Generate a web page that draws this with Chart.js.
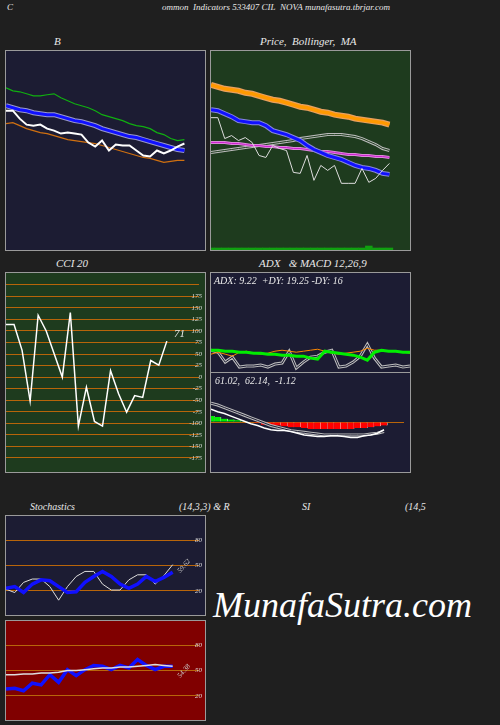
<!DOCTYPE html>
<html><head><meta charset="utf-8">
<script src="https://cdn.jsdelivr.net/npm/chart.js@4/dist/chart.umd.min.js"></script>
<style>
body{margin:0;width:500px;height:725px;background:#1f1f1f;position:relative;overflow:hidden;font-family:"Liberation Serif",serif;font-style:italic;color:#e8e8e8}
.t{position:absolute;font-size:11px;white-space:nowrap}
.p{position:absolute;border:1px solid #9a9a9a;box-sizing:border-box}
.p canvas{position:absolute;left:0;top:0}
</style></head><body>
<div class="t" style="left:7px;top:2px;font-size:9px">C</div>
<div class="t" style="left:162px;top:2px;font-size:9px">ommon&nbsp; Indicators 533407 CIL&nbsp; NOVA munafasutra.tbrjar.com</div>
<div class="t" style="left:54px;top:35px">B</div>
<div class="t" style="left:260px;top:35px">Price,&nbsp; Bollinger,&nbsp; MA</div>
<div class="t" style="left:56px;top:257px">CCI 20</div>
<div class="t" style="left:259px;top:257px">ADX &nbsp; &amp; MACD 12,26,9</div>
<div class="t" style="left:30px;top:501px;font-size:10px">Stochastics</div>
<div class="t" style="left:179px;top:501px;font-size:10px">(14,3,3) &amp; R</div>
<div class="t" style="left:302px;top:501px;font-size:10px">SI</div>
<div class="t" style="left:405px;top:501px;font-size:10px">(14,5</div>

<div class="p" style="left:5px;top:50px;width:201px;height:201px;background:#1c1c33"><canvas id="cB" width="199" height="199"></canvas></div>
<div class="p" style="left:210px;top:50px;width:201px;height:201px;background:#1e3b1e"><canvas id="cP" width="199" height="199"></canvas></div>
<div class="p" style="left:5px;top:272px;width:201px;height:201px;background:#1e3b1e"><canvas id="cC" width="199" height="199"></canvas></div>
<div class="p" style="left:210px;top:272px;width:201px;height:101px;background:#1c1c33"><canvas id="cA" width="199" height="99"></canvas></div>
<div class="p" style="left:210px;top:372px;width:201px;height:101px;background:#1c1c33"><canvas id="cM" width="199" height="99"></canvas></div>
<div class="p" style="left:5px;top:515px;width:201px;height:101px;background:#1c1c33"><canvas id="cS" width="199" height="99"></canvas></div>
<div class="p" style="left:5px;top:620px;width:201px;height:101px;background:#800000"><canvas id="cR" width="199" height="99"></canvas></div>

<div class="t" style="left:174px;top:327px;font-size:11px">71</div>
<div class="t" style="left:214px;top:275px;font-size:10px">ADX: 9.22 &nbsp;+DY: 19.25 -DY: 16</div>
<div class="t" style="left:215px;top:375px;font-size:10px">61.02,&nbsp; 62.14,&nbsp; -1.12</div>
<div class="t" style="left:176px;top:562px;font-size:7px;transform:rotate(-50deg);color:#ccc">59.62</div>
<div class="t" style="left:176px;top:667px;font-size:7px;transform:rotate(-50deg);color:#ccc">54.38</div>
<div class="t" style="left:213px;top:584px;font-size:36px;color:#fff">MunafaSutra.com</div>

<script>
// ---- data ----
const bUpper=[163,160,159,157,155,155,156,157,153,150,147,145,143,140,136,134,132,130,127,125,124,122,118,116,112,110,111];
const bMid=[145,143,141,140,138,137,136,136,134,132,130,129,127,125,122,120,118,116,114,113,111,109,107,105,103,101,100];
const bLower=[127,128,125,122,120,118,117,115,113,111,110,109,108,107,105,103,101,99,97,95,93,92,90,88,89,90,90];
const bPrice=[140,140,132,126,125,126,122,120,117,118,117,116,108,104,110,100,106,105,105,100,95,94,100,97,100,104,107];

const maLong=[166,164,162,161,160,158,157,155,153,151,150,148,146,144,143,141,139,138,136,135,134,132,131,130,129,128,126];
const maMid=[141,140,137,134,130,129,128,128,125,120,118,116,113,110,105,101,98,95,93,91,88,85,83,82,80,77,76];
const maPink=[108,108,108,107,107,106,105,105,104,104,103,103,102,102,101,100,99,99,98,97,96,96,95,95,94,94,93];
const maGrey=[98,99,100,101,102,103,104,105,106,107,108,109,110,112,113,114,115,116,116,116,115,114,112,109,106,102,100];
const pPrice=[133,133,112,115,110,113,108,95,93,105,102,100,78,77,95,70,85,80,85,67,67,67,82,68,72,80,87];
const volume=[2,2,2,2,2,2,2,2,2,2,2,2,2,2,2,2,2,2,2,2,2,2,2,4,2,2,2];

const cci=[114,114,58,-52,134,100,50,0,140,-106,-22,-96,-106,14,-36,-76,-40,-44,36,26,78];
const cciTicks=[200,175,150,125,100,75,50,25,0,-25,-50,-75,-100,-125,-150,-175];

const plusDI=[22,22,21,21,20,20,19,19,18,18,17,17,16,16,14,13,21,20,19,18,17,15,12,20,22,21,21,20,20,19];
const minusDI=[18,20,18,16,20,21,19,18,19,21,22,21,20,21,22,23,21,19,18,19,20,21,24,22,22,21,21,20,19,17];
const adx=[22,20,10,15,5,6,6,7,5,8,9,21,4,10,15,16,20,22,5,6,10,16,28,14,5,6,7,5,6,9];

const macd=[15,12,10,7,4,1,-2,-4,-7,-9,-10,-10,-11,-13,-15,-16,-17,-17,-16,-16,-17,-18,-18,-16,-15,-13,-9];
const signal=[22,20,17,14,11,8,5,2,-1,-4,-6,-8,-10,-11,-12,-13,-14,-15,-15,-15,-15,-15,-15,-15,-14,-13,-11];
const hist=[7,6,4,3,2,1,0,-1,-3,-4,-4,-5,-6,-6,-7,-8,-8,-8,-8,-8,-8,-8,-7,-7,-6,-5,-4];

const stochK=[22,18,30,34,34,25,9,25,37,43,43,28,21,21,33,39,39,28,38,51];
const stochD=[23,25,18,28,33,32,25,18,19,30,37,43,37,28,23,28,37,31,36,42];
const rsiW=[45,45,46,46,47,47,48,50,50,51,52,53,53,54,54,55,56,57,56,55];
const rsiB=[28,29,26,35,33,45,36,51,44,51,56,55,51,56,53,63,56,51,55,55];
const oscTicks=[20,50,80];

// ---- helpers ----
const ORANGE='#b8650a';
function labels(n){return Array.from({length:n},(_,i)=>i);}
function line(data,color,w,extra){return Object.assign({type:'line',data,borderColor:color,borderWidth:w,pointRadius:0,tension:0,fill:false},extra||{});}
function yScale(min,max,ticks,showLabels){
  const s={min,max,display:!!ticks,position:'right',border:{display:false},
    grid:{color:ORANGE,lineWidth:1,drawTicks:false},
    ticks:{mirror:true,padding:3,color:'#ddd',font:{family:'Liberation Serif',style:'italic',size:7},
      callback:(v)=>showLabels&&showLabels.includes(v)?String(v):''}};
  if(ticks){s.afterBuildTicks=(ax)=>{ax.ticks=ticks.map(v=>({value:v}));};}
  return s;
}
function mk(id,n,datasets,y){
  // later datasets in the list are drawn on top
  const ds=datasets.map((d,i)=>Object.assign(d,{order:datasets.length-i}));
  return new Chart(document.getElementById(id),{type:'line',data:{labels:labels(n),datasets:ds},
    options:{responsive:false,animation:false,devicePixelRatio:1,layout:{padding:0},
      plugins:{legend:{display:false},tooltip:{enabled:false}},
      scales:{x:{display:false,offset:false},y}}});
}
function dbl(data,w,bg){return [line(data,'#bbb',w+2),line(data,bg||'#1c1c33',w)];}

mk('cB',30,[line(bUpper,'#10b010',1.2),line(bLower,'#d07010',1.2),line(bMid,'#9999cc',5),line(bMid,'#1010ff',3),line(bPrice,'#ffffff',2)],yScale(0,200));
mk('cP',30,[{type:'bar',data:volume,backgroundColor:'#10a010',barPercentage:1,categoryPercentage:1},
  line(maLong,'#e8a060',6),line(maLong,'#ff9900',3.5),
  ...dbl(maGrey,1,'#1e3b1e'),
  line(maPink,'#dd88dd',3),line(maPink,'#cc22cc',1),
  line(maMid,'#8888dd',5),line(maMid,'#1010ff',3),
  line(pPrice,'#dddddd',1)],yScale(0,200));
mk('cC',25,[line(cci,'#ffffff',1.5)],yScale(-190,210,cciTicks,cciTicks.filter(v=>v!==200)));
mk('cA',29,[...dbl(adx,1),line(minusDI,'#ff8800',1),line(plusDI,'#00ee00',3)],yScale(0,100));
mk('cM',30,[{type:'bar',data:hist,backgroundColor:hist.map(v=>v>=0?'#00ee00':'#ff0000'),borderColor:'#ffffff',borderWidth:{left:0,right:0.6,top:0,bottom:0},barPercentage:1,categoryPercentage:1},
  ...dbl(signal,1),line(macd,'#ffffff',1.5)],yScale(-50,49,[0]));
mk('cS',23,[line(stochK,'#dddddd',1),line(stochD,'#1010ff',3.5)],yScale(0,100,oscTicks,[20,50,80]));
mk('cR',23,[line(rsiB,'#1010ff',3.5),line(rsiW,'#dddddd',1.5)],yScale(0,100,oscTicks,[20,50,80]));
</script>
</body></html>
